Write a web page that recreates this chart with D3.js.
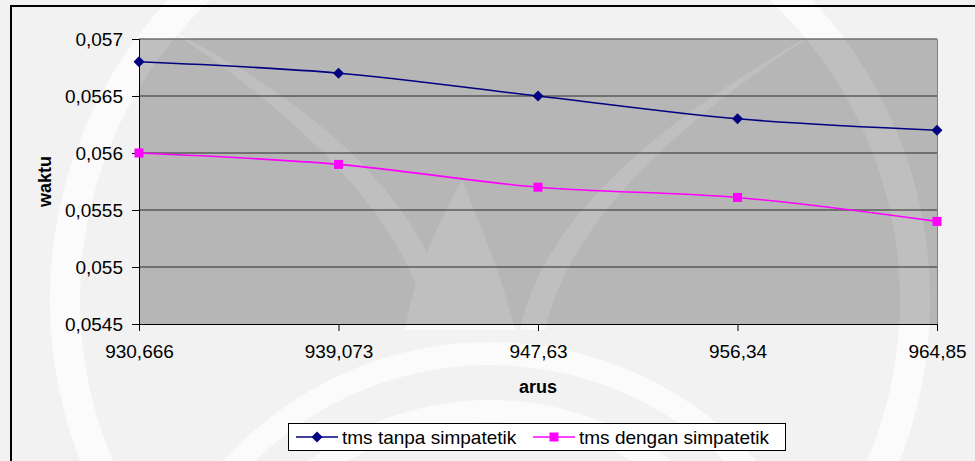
<!DOCTYPE html>
<html>
<head>
<meta charset="utf-8">
<script src="https://cdn.jsdelivr.net/npm/d3@7"></script>
<style>
  body { margin: 0; background: #f2f2f2; }
  text { font-family: "Liberation Sans", Arial, sans-serif; fill: #000; }
</style>
</head>
<body>
<div id="container"></div>
<script>
let w = 975;
let h = 461;

// data
let arus = ['930,666', '939,073', '947,63', '956,34', '964,85'];
let tanpa = [0.0568, 0.0567, 0.0565, 0.0563, 0.0562];
let dengan = [0.0560, 0.0559, 0.0557, 0.05561, 0.0554];
let yTicks = [0.0545, 0.055, 0.0555, 0.056, 0.0565, 0.057];
let yTickLabels = ['0,0545', '0,055', '0,0555', '0,056', '0,0565', '0,057'];
let seriesNames = ['tms tanpa simpatetik', 'tms dengan simpatetik'];
let seriesColors = ['#000080', '#ff00ff'];

let plotLeft = 139, plotRight = 937, plotTop = 39, plotBottom = 324;

let viz = d3.select('#container')
  .append('svg')
    .attr('width', w)
    .attr('height', h)
    .style('display', 'block')
  ;

viz.append('rect').attr('width', w).attr('height', h).attr('fill', '#f2f2f2');

// faint logo watermark behind the chart
function watermark(g){
  let ring = d3.arc();
  g.append('path')
    .attr('transform', 'translate(490,300)')
    .attr('d', ring({innerRadius: 410, outerRadius: 440, startAngle: 0, endAngle: 2 * Math.PI}));
  g.append('path')
    .attr('transform', 'translate(490,700)')
    .attr('d', ring({innerRadius: 335, outerRadius: 358, startAngle: -1.3, endAngle: 1.3}));
  g.append('path')
    .attr('transform', 'translate(490,700)')
    .attr('d', ring({innerRadius: 278, outerRadius: 300, startAngle: -1.3, endAngle: 1.3}));
  // centre stem and two leaves
  g.append('path').attr('d', 'M405,330 C415,270 440,220 462,180 C478,220 500,270 515,330 Z');
  g.append('path').attr('d', 'M430,330 C410,230 320,130 170,30 C330,110 430,210 455,330 Z');
  g.append('path').attr('d', 'M520,330 C540,230 640,130 820,30 C680,120 570,220 545,330 Z');
}

let outerMark = viz.append('g').attr('fill', '#fbfbfb');
watermark(outerMark);

// plot area
viz.append('clipPath').attr('id', 'plotclip')
  .append('rect').attr('x', plotLeft).attr('y', plotTop)
    .attr('width', plotRight - plotLeft).attr('height', plotBottom - plotTop);

viz.append('rect')
  .attr('x', plotLeft).attr('y', plotTop)
  .attr('width', plotRight - plotLeft).attr('height', plotBottom - plotTop)
  .attr('fill', '#b6b6b6');

let innerMark = viz.append('g').attr('fill', '#bfbfbf').attr('clip-path', 'url(#plotclip)');
watermark(innerMark);

// chart border
viz.append('path')
  .attr('d', 'M11,' + h + ' L11,6 L' + w + ',6')
  .attr('fill', 'none').attr('stroke', '#000').attr('stroke-width', 2);

let xScale = d3.scalePoint().domain(arus).range([plotLeft, plotRight]);
let yScale = d3.scaleLinear().domain([0.0545, 0.057]).range([plotBottom, plotTop]);

// gridlines
viz.append('g').selectAll('line')
  .data(yTicks.slice(1))
  .enter().append('line')
    .attr('x1', plotLeft).attr('x2', plotRight)
    .attr('y1', d => yScale(d)).attr('y2', d => yScale(d))
    .attr('stroke', '#2a2a2a').attr('stroke-width', 1);

// plot frame (top/right gray)
viz.append('path')
  .attr('d', 'M' + plotLeft + ',' + (plotTop + 0.5) + ' H' + (plotRight + 0.5) + ' V' + plotBottom)
  .attr('fill', 'none').attr('stroke', '#808080');

// axes
let yAxis = d3.axisLeft(yScale)
  .tickValues(yTicks)
  .tickFormat((d, i) => yTickLabels[i])
  .tickSize(7).tickPadding(9);
let yAxisGroup = viz.append('g').attr('class', 'yaxis')
  .attr('transform', 'translate(' + plotLeft + ', 0)')
  .call(yAxis);

let xAxis = d3.axisBottom(xScale).tickSize(7).tickPadding(14);
let xAxisGroup = viz.append('g').attr('class', 'xaxis')
  .attr('transform', 'translate(0, ' + plotBottom + ')')
  .call(xAxis);

viz.selectAll('.xaxis path, .yaxis path, .xaxis line, .yaxis line').attr('stroke', '#000');
viz.selectAll('.xaxis text, .yaxis text')
  .style('font-family', '"Liberation Sans", Arial, sans-serif')
  .style('font-size', '19px')
  .attr('fill', '#000');

// axis titles
viz.append('text')
  .attr('x', (plotLeft + plotRight) / 2).attr('y', 393)
  .attr('text-anchor', 'middle')
  .style('font-size', '18px').style('font-weight', 'bold')
  .text('arus');

viz.append('text')
  .attr('transform', 'translate(51,' + ((plotTop + plotBottom) / 2) + ') rotate(-90)')
  .attr('text-anchor', 'middle')
  .style('font-size', '18px').style('font-weight', 'bold')
  .text('waktu');

// markers
let diamond = {
  draw: function(ctx, size){
    let r = Math.sqrt(size) / 2;
    ctx.moveTo(0, -r); ctx.lineTo(r, 0); ctx.lineTo(0, r); ctx.lineTo(-r, 0); ctx.closePath();
  }
};
let symbols = [d3.symbol().type(diamond).size(121), d3.symbol().type(d3.symbolSquare).size(81)];

let line = d3.line()
  .x((d, i) => xScale(arus[i]))
  .y(d => yScale(d))
  .curve(d3.curveCatmullRom);

[tanpa, dengan].forEach(function(series, s){
  viz.append('path')
    .datum(series)
    .attr('d', line)
    .attr('fill', 'none')
    .attr('stroke', seriesColors[s])
    .attr('stroke-width', 1.6);

  viz.append('g').selectAll('path')
    .data(series)
    .enter().append('path')
      .attr('transform', (d, i) => 'translate(' + xScale(arus[i]) + ',' + yScale(d) + ')')
      .attr('d', symbols[s])
      .attr('fill', seriesColors[s]);
});

// legend
let legend = viz.append('g');
legend.append('rect')
  .attr('x', 288.5).attr('y', 423.5).attr('width', 497).attr('height', 27)
  .attr('fill', '#fff').attr('stroke', '#000');

let legendX = [296, 533];
seriesNames.forEach(function(name, s){
  let lx = legendX[s];
  legend.append('line')
    .attr('x1', lx).attr('x2', lx + 42)
    .attr('y1', 437).attr('y2', 437)
    .attr('stroke', seriesColors[s]).attr('stroke-width', 1.6);
  legend.append('path')
    .attr('transform', 'translate(' + (lx + 21) + ',437)')
    .attr('d', symbols[s])
    .attr('fill', seriesColors[s]);
  legend.append('text')
    .attr('x', lx + 46).attr('y', 444)
    .style('font-size', '19px')
    .text(name);
});
</script>
</body>
</html>
